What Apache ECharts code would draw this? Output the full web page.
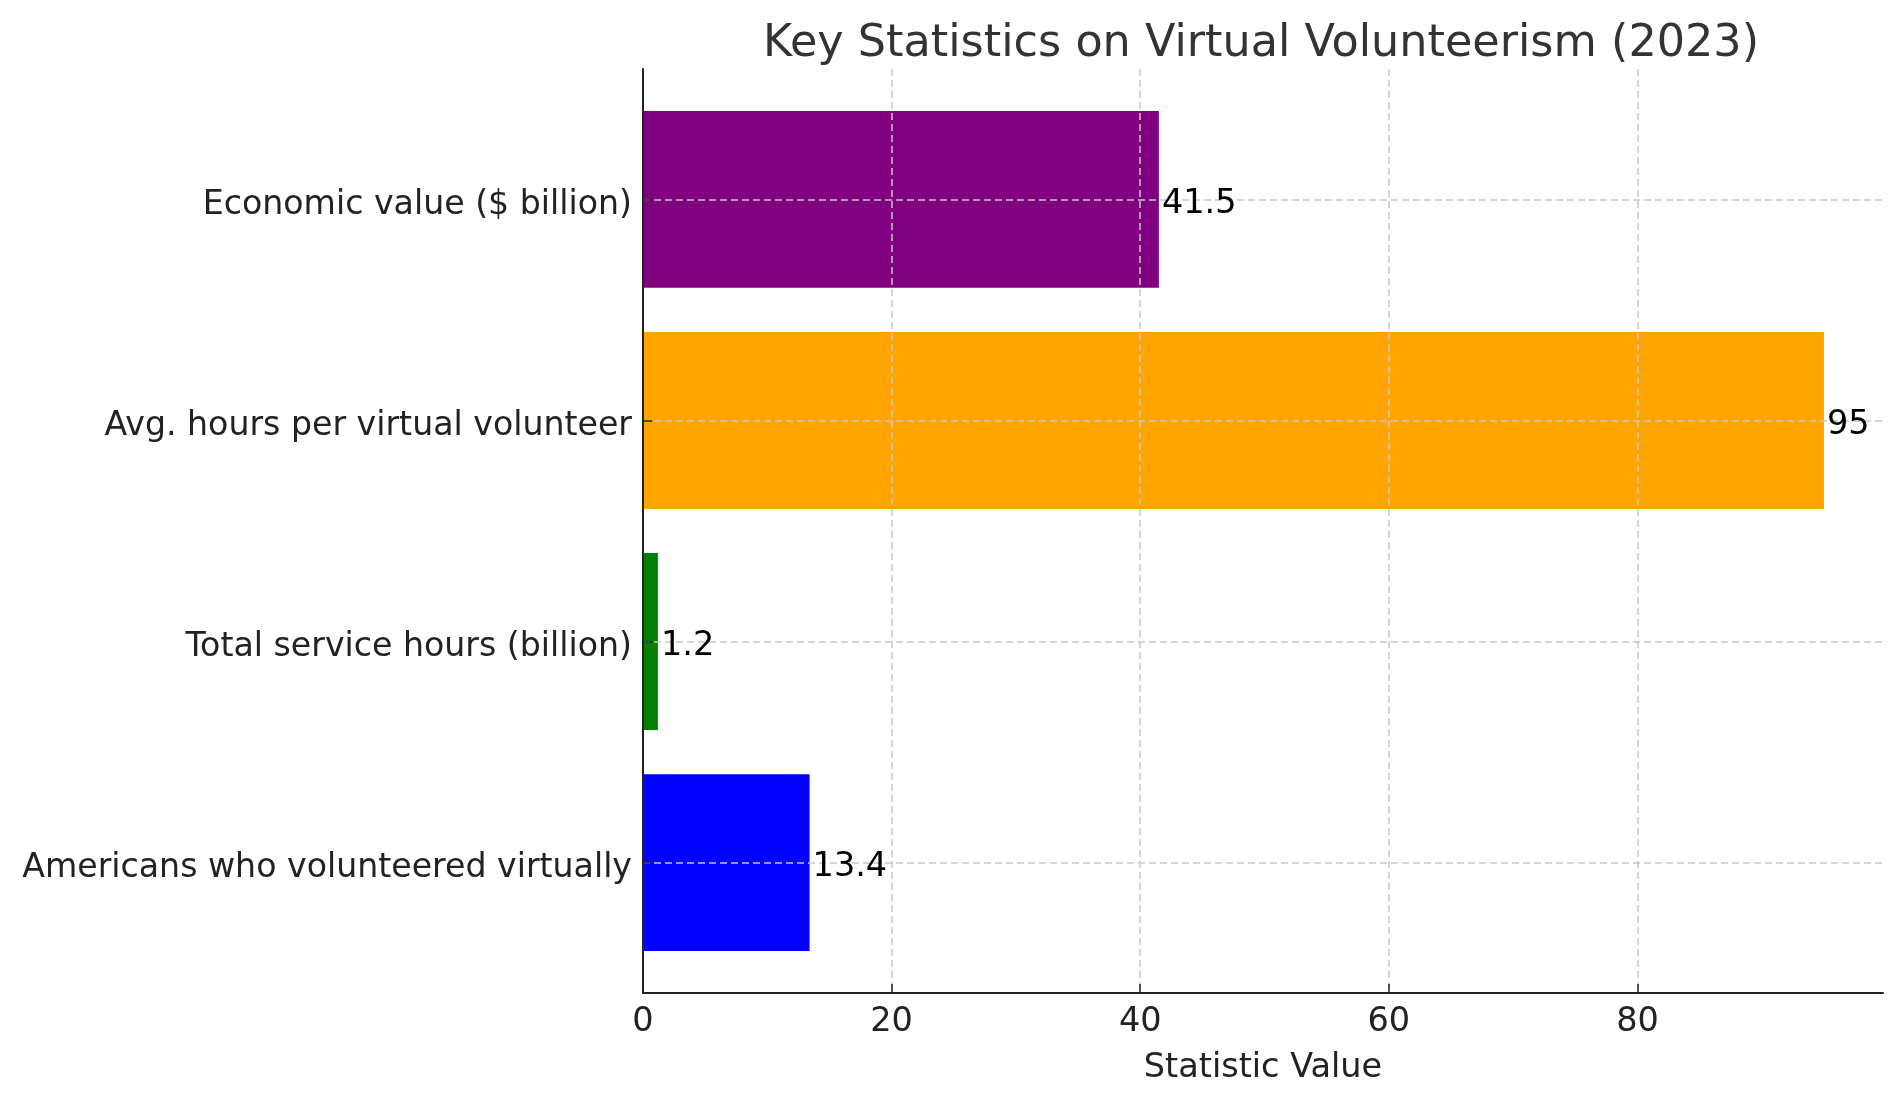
<!DOCTYPE html>
<html>
<head>
<meta charset="utf-8">
<script src="https://cdn.jsdelivr.net/npm/echarts@6/dist/echarts.min.js"></script>
<style>html,body{margin:0;padding:0;background:#fff}#c{width:1902px;height:1101px}</style>
</head>
<body>
<div id="c"></div>
<script>
const categories = ["Americans who volunteered virtually", "Total service hours (billion)", "Avg. hours per virtual volunteer", "Economic value ($ billion)"];
const values = [13.4, 1.2, 95, 41.5];
const barColors = ["#0000ff", "#008000", "#ffa500", "#800080"];
const xTicks = [0, 20, 40, 60, 80];
const valueLabels = ["13.4", "1.2", "95", "41.5"];

const FONT = "DejaVu Sans";
const chart = echarts.init(document.getElementById('c'), null, {renderer: 'canvas'});
const data = values.map((v, i) => [v, i]);

function barItem(params, api) {
  const v = api.value(0), i = api.value(1);
  const s = api.coord([0, i]);
  const e = api.coord([v, i]);
  const h = api.size([0, 0.8])[1];
  return {type: 'rect', shape: {x: s[0], y: s[1] - h / 2, width: e[0] - s[0], height: h}, style: {fill: barColors[i]}};
}
function labelItem(params, api) {
  const v = api.value(0), i = api.value(1);
  const e = api.coord([v, i]);
  return {type: 'text', x: e[0] + 3, y: e[1] + 5, style: {text: valueLabels[i], font: '33.5px "' + FONT + '"', fill: '#000', verticalAlign: 'middle', align: 'left'}};
}

chart.setOption({
  animation: false,
  title: {
    text: 'Key Statistics on Virtual Volunteerism (2023)',
    left: 1256, top: 17, textAlign: 'center',
    textStyle: {fontFamily: FONT, fontSize: 44.5, fontWeight: 'normal', color: '#333333'}
  },
  grid: {left: 643, right: 19, top: 69, bottom: 108, containLabel: false},
  xAxis: {
    type: 'value', min: 0, max: 99.75, interval: 20, z: 2,
    name: 'Statistic Value', nameLocation: 'middle', nameGap: 58,
    nameTextStyle: {fontFamily: FONT, fontSize: 33.5, color: '#222'},
    axisLine: {show: true, onZero: false, lineStyle: {color: '#222', width: 2}},
    axisTick: {show: true, inside: true, length: 9, customValues: xTicks, lineStyle: {color: '#222', width: 1.5}},
    axisLabel: {customValues: xTicks, fontFamily: FONT, fontSize: 33.5, color: '#222', margin: 12},
    splitLine: {show: true, lineStyle: {color: '#c8c8c8', type: [7, 4], width: 1.5}}
  },
  yAxis: {
    type: 'value', min: -0.59, max: 3.59, z: 2,
    axisLine: {show: true, onZero: false, lineStyle: {color: '#222', width: 2}},
    axisTick: {show: true, inside: true, length: 9, customValues: [0, 1, 2, 3], lineStyle: {color: '#222', width: 1.5}},
    axisLabel: {
      customValues: [0, 1, 2, 3], formatter: v => '{a|' + categories[Math.round(v)] + '}',
      margin: 11,
      rich: {a: {fontFamily: FONT, fontSize: 33.2, color: '#222', padding: [12, 0, 0, 0]}}
    },
    splitLine: {show: true, lineStyle: {color: '#c8c8c8', type: [7, 4], width: 1.5}}
  },
  series: [
    {type: 'custom', z: 1, renderItem: barItem, data: data, encode: {x: 0, y: 1}, clip: false},
    {type: 'custom', z: 3, renderItem: labelItem, data: data, encode: {x: 0, y: 1}, clip: false}
  ]
});
</script>
</body>
</html>
